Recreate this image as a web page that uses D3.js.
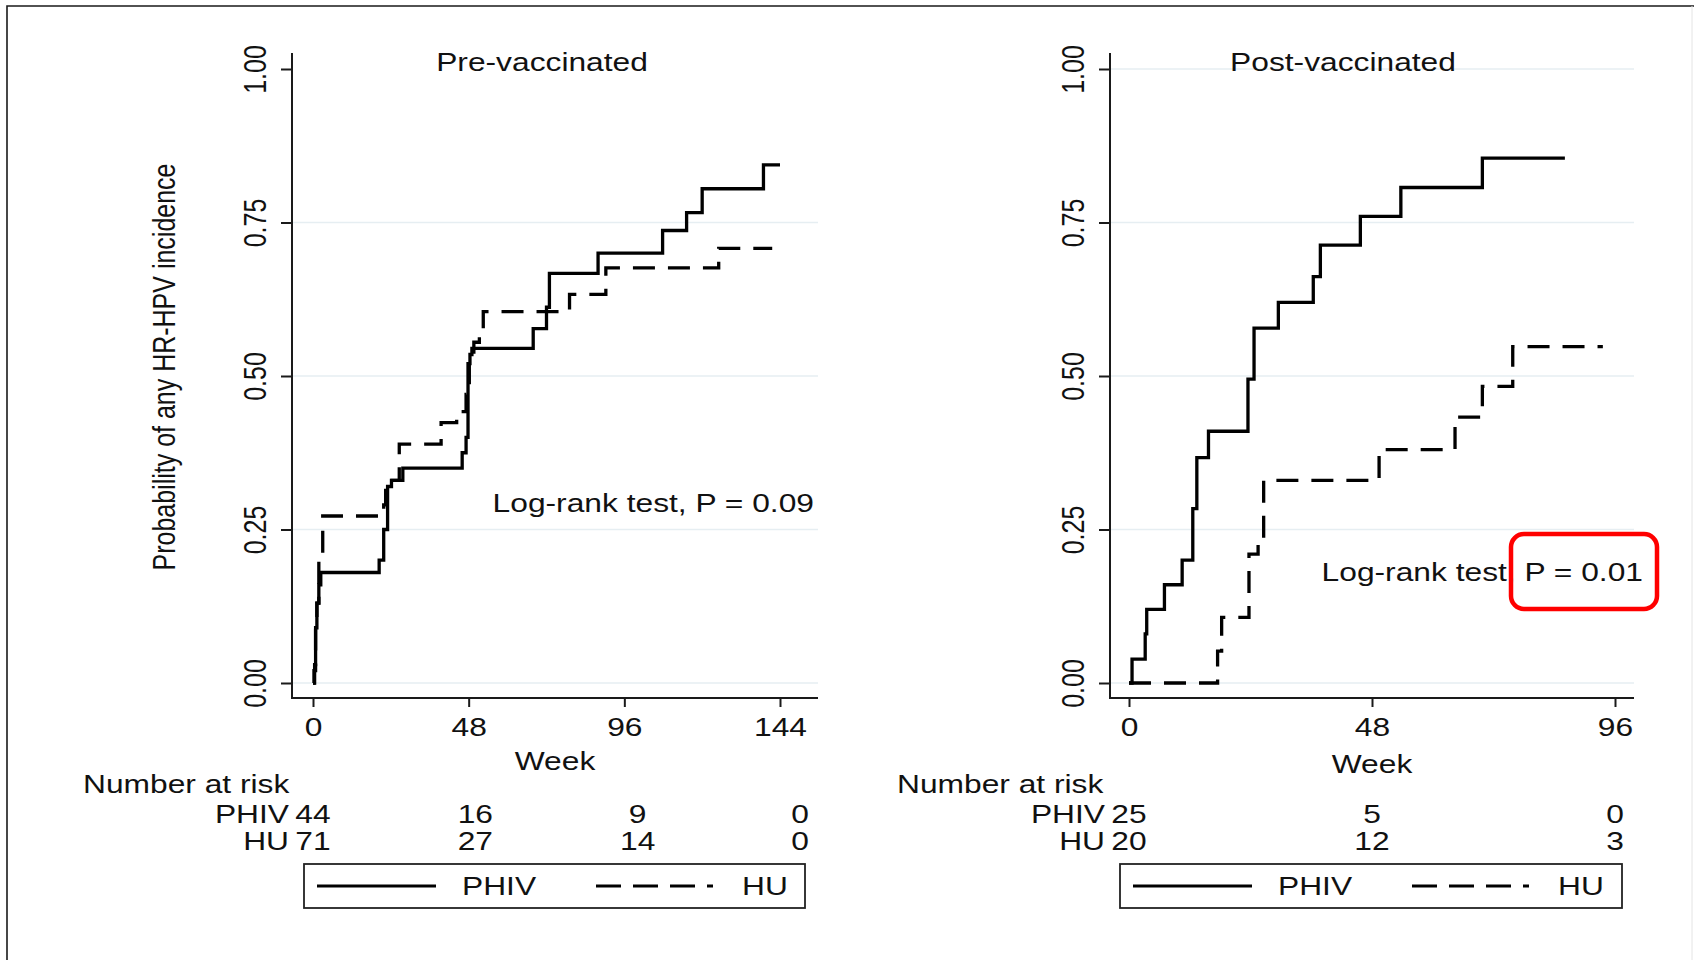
<!DOCTYPE html>
<html>
<head>
<meta charset="utf-8">
<script src="https://cdn.jsdelivr.net/npm/d3@7"></script>
<style>
  html, body { margin: 0; padding: 0; background: #fff; }
  svg text { font-family: "Liberation Sans", Arial, sans-serif; fill: #111; }
</style>
</head>
<body>
<script>
// Kaplan-Meier cumulative incidence (week, probability)
var prePhivWeeks = [0, 0.3, 0.8, 1.2, 1.8, 2.4, 20.4, 21.8, 23.0, 24.2, 27.7, 46.0, 47.2, 47.8, 48.4, 49.0, 67.9, 72.0, 72.9, 87.9, 107.8, 115.2, 120.0, 138.9, 144]
var prePhivProb = [0, 0.02, 0.09, 0.13, 0.16, 0.18, 0.20, 0.25, 0.32, 0.33, 0.35, 0.375, 0.40, 0.52, 0.535, 0.545, 0.577, 0.612, 0.667, 0.70, 0.737, 0.766, 0.805, 0.844, 0.844]
var preHuWeeks = [0, 0.5, 0.8, 1.2, 1.8, 3.0, 21.8, 22.4, 26.6, 39.5, 44.3, 47.2, 48.2, 49.6, 51.3, 52.5, 79.1, 90.3, 125.1, 141.6]
var preHuProb = [0, 0.03, 0.09, 0.13, 0.20, 0.272, 0.29, 0.33, 0.389, 0.424, 0.442, 0.47, 0.53, 0.555, 0.57, 0.605, 0.633, 0.676, 0.708, 0.708]
var postPhivWeeks = [0, 0.6, 3.2, 3.5, 7.0, 10.5, 12.6, 13.4, 15.7, 23.5, 24.7, 29.5, 36.4, 37.8, 45.7, 53.7, 69.8, 86.1]
var postPhivProb = [0, 0.039, 0.08, 0.12, 0.16, 0.20, 0.284, 0.367, 0.41, 0.495, 0.578, 0.62, 0.662, 0.713, 0.76, 0.807, 0.855, 0.855]
var postHuWeeks = [0, 17.5, 18.3, 23.7, 25.5, 26.6, 49.4, 64.4, 69.8, 75.8, 93.6]
var postHuProb = [0, 0.052, 0.107, 0.21, 0.225, 0.33, 0.38, 0.433, 0.483, 0.548, 0.548]

// axes
var preTicks = [0, 48, 96, 144]
var postTicks = [0, 48, 96]
var yTicks = [0, 0.25, 0.5, 0.75, 1]
var yTickLabels = ['0.00', '0.25', '0.50', '0.75', '1.00']

// number at risk
var riskGroups = ['PHIV', 'HU']
var riskPrePhiv = [44, 16, 9, 0]
var riskPreHu = [71, 27, 14, 0]
var riskPostPhiv = [25, 5, 0]
var riskPostHu = [20, 12, 3]

;(function () {
  'use strict'

  var W = 1694
  var H = 960
  var K = 1.27 // the picture is stretched sideways
  var FS = 25

  var svg = d3.select('body').append('svg')
    .attr('width', W)
    .attr('height', H)

  // outer frame
  svg.append('path')
    .attr('d', 'M7,' + H + 'V6H' + W)
    .attr('fill', 'none')
    .attr('stroke', '#1a1a1a')
    .attr('stroke-width', 1.6)
  svg.append('line')
    .attr('x1', 1692).attr('x2', 1692).attr('y1', 6).attr('y2', H)
    .attr('stroke', '#e4e4e4').attr('stroke-width', 1)

  var panels = [
    {
      title: 'Pre-vaccinated', titleX: 542, maxWeek: 144, ticks: preTicks,
      axisX: 292, axisEnd: 818, range: [313, 780], riskRange: [313, 800],
      topGrid: false, yTitle: true,
      phiv: [prePhivWeeks, prePhivProb], hu: [preHuWeeks, preHuProb],
      logRank: 'Log-rank test, P = 0.09', lrX: 814, lrY: 512, box: null,
      risk: [riskPrePhiv, riskPreHu], riskX: 83, weekY: 770,
      legend: { x: 304, w: 501 }
    },
    {
      title: 'Post-vaccinated', titleX: 1343, maxWeek: 96, ticks: postTicks,
      axisX: 1110, axisEnd: 1634, range: [1129, 1615], riskRange: [1129, 1615],
      topGrid: true, yTitle: false,
      phiv: [postPhivWeeks, postPhivProb], hu: [postHuWeeks, postHuProb],
      logRank: 'Log-rank test, P = 0.01', lrX: 1643, lrY: 581,
      box: { x: 1511, y: 534, w: 146, h: 75 },
      risk: [riskPostPhiv, riskPostHu], riskX: 897, weekY: 773,
      legend: { x: 1120, w: 502 }
    }
  ]

  var y = d3.scaleLinear().domain([0, 1]).range([683, 69])
  var axisY = 698

  panels.forEach(function (p) { drawPanel(p) })

  function label (g, x, yy, str, anchor, rot) {
    return g.append('text')
      .attr('transform', 'translate(' + x + ',' + yy + ') scale(' + K + ',1)' +
        (rot ? ' rotate(' + rot + ')' : ''))
      .attr('text-anchor', anchor || 'start')
      .attr('font-size', FS)
      .text(str)
  }

  function drawPanel (p) {
    var g = svg.append('g')
    var x = d3.scaleLinear().domain([0, p.maxWeek]).range(p.range)
    var xRisk = d3.scaleLinear().domain([0, p.maxWeek]).range(p.riskRange)

    // grid
    var grid = yTicks.filter(function (d) { return d < 1 || p.topGrid })
    g.selectAll('.grid').data(grid).enter().append('line')
      .attr('class', 'grid')
      .attr('x1', p.axisX + 1).attr('x2', p.axisEnd)
      .attr('y1', function (d) { return y(d) })
      .attr('y2', function (d) { return y(d) })
      .attr('stroke', '#e6eef2')
      .attr('stroke-width', 1.6)

    // axis lines
    g.append('path')
      .attr('d', 'M' + p.axisX + ',53V' + axisY + 'H' + p.axisEnd)
      .attr('fill', 'none')
      .attr('stroke', '#1a1a1a')
      .attr('stroke-width', 2)

    var left = g.append('g')
      .attr('transform', 'translate(' + p.axisX + ',0)')
      .call(d3.axisLeft(y).tickValues(yTicks).tickSize(11)
        .tickFormat(function (d, i) { return yTickLabels[i] }))
    left.select('.domain').remove()
    left.selectAll('.tick line').attr('stroke', '#1a1a1a').attr('stroke-width', 2)
    left.selectAll('.tick text')
      .attr('x', null).attr('dy', null)
      .attr('text-anchor', 'middle')
      .attr('font-size', FS)
      .attr('font-family', null)
      .attr('fill', '#111')
      .attr('transform', 'translate(-26,0) scale(' + K + ',1) rotate(-90)')

    var bottom = g.append('g')
      .attr('transform', 'translate(0,' + axisY + ')')
      .call(d3.axisBottom(x).tickValues(p.ticks).tickSize(9))
    bottom.select('.domain').remove()
    bottom.selectAll('.tick line').attr('stroke', '#1a1a1a').attr('stroke-width', 2)
    bottom.selectAll('.tick text')
      .attr('y', 38).attr('dy', null)
      .attr('font-size', FS)
      .attr('font-family', null)
      .attr('fill', '#111')
      .attr('transform', 'scale(' + K + ',1)')

    // curves
    var line = d3.line()
      .x(function (d) { return x(d[0]) })
      .y(function (d) { return y(d[1]) })
      .curve(d3.curveStepAfter)

    g.append('path')
      .attr('d', line(d3.zip(p.phiv[0], p.phiv[1])))
      .attr('fill', 'none')
      .attr('stroke', '#000')
      .attr('stroke-width', 3.3)
    g.append('path')
      .attr('d', line(d3.zip(p.hu[0], p.hu[1])))
      .attr('fill', 'none')
      .attr('stroke', '#000')
      .attr('stroke-width', 3.3)
      .attr('stroke-dasharray', '22,13')

    // texts
    label(g, p.titleX, 71, p.title, 'middle')
    if (p.yTitle) {
      label(g, 175, 367, 'Probability of any HR-HPV incidence', 'middle', -90)
    }
    label(g, (p.axisX + p.axisEnd) / 2, p.weekY, 'Week', 'middle')
    label(g, p.lrX, p.lrY, p.logRank, 'end')

    if (p.box) {
      g.append('rect')
        .attr('x', p.box.x).attr('y', p.box.y)
        .attr('width', p.box.w).attr('height', p.box.h)
        .attr('rx', 13)
        .attr('fill', 'none')
        .attr('stroke', '#ff0000')
        .attr('stroke-width', 4.5)
    }

    // number at risk
    label(g, p.riskX, 793, 'Number at risk', 'start')
    p.risk.forEach(function (row, r) {
      var rowY = 823 + r * 27
      label(g, xRisk(0) - 24, rowY, riskGroups[r], 'end')
      row.forEach(function (n, i) {
        label(g, xRisk(p.ticks[i]), rowY, String(n), 'middle')
      })
    })

    // legend
    var lg = g.append('g').attr('transform', 'translate(' + p.legend.x + ',864)')
    lg.append('rect')
      .attr('width', p.legend.w).attr('height', 44)
      .attr('fill', '#fff')
      .attr('stroke', '#222')
      .attr('stroke-width', 1.8)
    lg.append('line')
      .attr('x1', 13).attr('x2', 132).attr('y1', 22).attr('y2', 22)
      .attr('stroke', '#000').attr('stroke-width', 3)
    label(lg, 158, 31, riskGroups[0], 'start')
    lg.append('line')
      .attr('x1', 292).attr('x2', 409).attr('y1', 22).attr('y2', 22)
      .attr('stroke', '#000').attr('stroke-width', 3)
      .attr('stroke-dasharray', '25,12')
    label(lg, 438, 31, riskGroups[1], 'start')
  }
}())
</script>
</body>
</html>
